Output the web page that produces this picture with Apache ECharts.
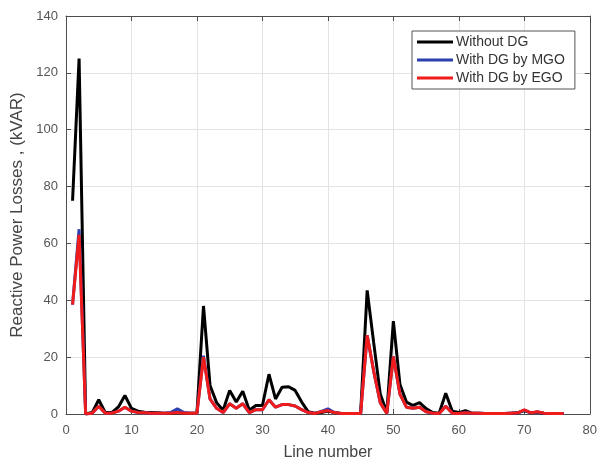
<!DOCTYPE html>
<html>
<head>
<meta charset="utf-8">
<script src="https://cdn.jsdelivr.net/npm/echarts@6/dist/echarts.min.js"></script>
<style>html,body{margin:0;padding:0;background:#fff;}#c{width:600px;height:466px;}</style>
</head>
<body>
<div id="c"></div>
<script>
var lineNumbers = [];
for (var i = 1; i <= 76; i++) lineNumbers.push(i);

var withoutDG = [75, 125, 0, 0.5, 5, 0.5, 0.5, 2.5, 6.5, 2, 1, 0.6, 0.5, 0.4, 0.3, 0.3, 0.5, 0.3, 0.3, 0.3,
  38, 10, 4, 1.3, 8.3, 4.2, 8, 1.3, 3, 3, 14, 5.3, 9.4, 9.6, 8.3, 4.2, 0.8, 0.3, 0.5, 1,
  0.5, 0.2, 0.2, 0.2, 0.2, 43.5, 25, 7, 0.5, 32.7, 10.5, 4.2, 3, 4, 1.9, 0.5, 0.3, 7.3, 1, 0.5,
  1.2, 0.3, 0.3, 0.2, 0.2, 0.2, 0.2, 0.3, 0.4, 1.2, 0.4, 0.6, 0.3, 0.2, 0.2, 0.2];

var withMGO = [38.5, 65, 0, 0.3, 2.7, 0.3, 0.3, 1, 2.4, 1, 0.5, 0.4, 0.3, 0.3, 0.3, 0.5, 1.8, 0.5, 0.3, 0.3,
  20.5, 5.3, 2, 0.5, 3.6, 2, 3.6, 0.5, 1.5, 1.5, 5, 2.4, 3.3, 3.3, 2.8, 1.5, 0.5, 0.2, 0.9, 1.8,
  0.5, 0.2, 0.2, 0.2, 0.2, 27.7, 15, 4, 0.2, 20.2, 7, 2.4, 2, 2.4, 0.8, 0.3, 0.2, 2.7, 0.3, 0.2,
  0.5, 0.3, 0.3, 0.2, 0.2, 0.2, 0.2, 0.3, 0.4, 1.4, 0.4, 0.7, 0.3, 0.2, 0.2, 0.2];

var withEGO = [38.5, 63, 0, 0.3, 2.7, 0.3, 0.3, 1, 2.4, 1, 0.5, 0.4, 0.3, 0.3, 0.3, 0.3, 0.5, 0.3, 0.3, 0.3,
  20, 5.3, 2, 0.5, 3.6, 2, 3.6, 0.5, 1.5, 1.5, 5, 2.4, 3.3, 3.3, 2.8, 1.5, 0.5, 0.2, 0.8, 1.2,
  0.5, 0.2, 0.2, 0.2, 0.2, 27.7, 15, 4, 0.2, 20.2, 7, 2.4, 2, 2.4, 0.8, 0.3, 0.2, 2.7, 0.3, 0.2,
  0.4, 0.3, 0.3, 0.2, 0.2, 0.2, 0.2, 0.3, 0.4, 1.5, 0.4, 0.8, 0.3, 0.2, 0.2, 0.2];

var seriesNames = ['Without DG', 'With DG by MGO', 'With DG by EGO'];
var seriesColors = ['#000000', '#2b3fae', '#f01c1c'];

function pairs(vals) {
  return lineNumbers.map(function (x, k) { return [x, vals[k]]; });
}

var font = 'Liberation Sans, Arial, sans-serif';
var axisCommon = {
  axisLine: { show: true, onZero: false, lineStyle: { color: '#4d4d4d', width: 1 } },
  axisTick: { show: true, inside: true, length: 5, lineStyle: { color: '#4d4d4d' } },
  splitLine: { show: false }
};

var chart = echarts.init(document.getElementById('c'), null, { renderer: 'canvas' });
chart.setOption({
  animation: false,
  backgroundColor: '#ffffff',
  grid: { left: 66, right: 8, top: 16, bottom: 50 },
  legend: {
    orient: 'vertical',
    left: 412, top: 31,
    data: seriesNames,
    icon: 'rect',
    itemWidth: 36, itemHeight: 3, itemGap: 4,
    backgroundColor: '#ffffff',
    borderColor: '#555555', borderWidth: 1,
    padding: [4, 10, 4, 5],
    textStyle: { fontFamily: font, fontSize: 14, color: '#333333', padding: [0, 0, 0, -2] }
  },
  xAxis: [
    Object.assign({}, axisCommon, {
      type: 'value', min: 0, max: 80, interval: 10, position: 'bottom',
      name: 'Line number', nameLocation: 'middle', nameGap: 31,
      nameTextStyle: { fontFamily: font, fontSize: 16, color: '#444444' },
      axisLabel: { fontFamily: font, fontSize: 13, color: '#555555', margin: 10 },
      splitLine: { show: true, lineStyle: { color: '#e3e3e3', width: 1 } }
    }),
    Object.assign({}, axisCommon, {
      type: 'value', min: 0, max: 80, interval: 10, position: 'top',
      axisLabel: { show: false }
    })
  ],
  yAxis: [
    Object.assign({}, axisCommon, {
      type: 'value', min: 0, max: 140, interval: 20, position: 'left',
      name: 'Reactive Power Losses , (kVAR)', nameLocation: 'middle', nameGap: 40,
      nameTextStyle: { fontFamily: font, fontSize: 17, color: '#444444' },
      axisLabel: { fontFamily: font, fontSize: 13, color: '#555555', margin: 8 },
      splitLine: { show: true, lineStyle: { color: '#e3e3e3', width: 1 } }
    }),
    Object.assign({}, axisCommon, {
      type: 'value', min: 0, max: 140, interval: 20, position: 'right',
      axisLabel: { show: false }
    })
  ],
  series: [withoutDG, withMGO, withEGO].map(function (vals, k) {
    return {
      name: seriesNames[k], type: 'line', data: pairs(vals),
      showSymbol: false, symbol: 'none',
      color: seriesColors[k],
      lineStyle: { color: seriesColors[k], width: 3 },
      z: 2 + k
    };
  })
});
</script>
</body>
</html>
